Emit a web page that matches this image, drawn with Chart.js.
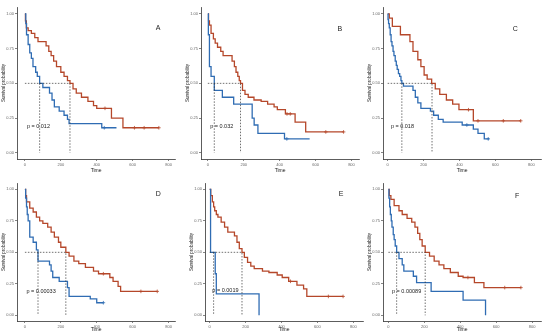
<!DOCTYPE html>
<html>
<head>
<meta charset="utf-8">
<script src="https://cdn.jsdelivr.net/npm/chart.js"></script>
<style>
body{margin:0;background:#fff;width:550px;height:335px;position:relative;overflow:hidden}
canvas{position:absolute}
</style>
</head>
<body>
<canvas id="cA" width="180" height="175" style="left:0;top:0"></canvas>
<canvas id="cB" width="180" height="175" style="left:184px;top:0"></canvas>
<canvas id="cC" width="180" height="175" style="left:366px;top:0"></canvas>
<canvas id="cD" width="180" height="157" style="left:0;top:178px"></canvas>
<canvas id="cE" width="180" height="157" style="left:188px;top:178px"></canvas>
<canvas id="cF" width="180" height="157" style="left:366px;top:178px"></canvas>
<script>
// panel letters and log-rank p values
var panelNames = ['A', 'B', 'C', 'D', 'E', 'F'];
var pTexts = ['p = 0.012', 'p = 0.032', 'p = 0.018', 'p = 0.00033', 'p = 0.0019', 'p = 0.00089'];
var xTickVals = [0, 200, 400, 600, 800];
var yTickVals = [0, 0.25, 0.5, 0.75, 1];

// median survival times (dashed guides)
var redMedian = [251, 182, 247, 228, 180, 205];
var blueMedian = [82, 36, 79, 73, 22, 46];

// KM curves: event times and survival after each step (last entry = end of follow-up)
var redA_t = [3, 8, 18, 36, 55, 73, 118, 133, 146, 160, 176, 200, 218, 237, 251, 268, 286, 315, 351, 382, 400, 482, 546, 746];
var redA_s = [0.95, 0.90, 0.88, 0.86, 0.83, 0.80, 0.77, 0.73, 0.70, 0.66, 0.62, 0.58, 0.55, 0.52, 0.50, 0.46, 0.43, 0.40, 0.37, 0.34, 0.32, 0.25, 0.18, 0.18];
var redA_c = [446, 610, 664, 746];
var blueA_t = [5, 9, 18, 27, 36, 45, 60, 69, 82, 100, 137, 151, 164, 191, 218, 237, 246, 428, 510];
var blueA_s = [0.93, 0.85, 0.78, 0.72, 0.68, 0.62, 0.58, 0.55, 0.50, 0.47, 0.43, 0.38, 0.33, 0.30, 0.27, 0.24, 0.21, 0.18, 0.18];
var blueA_c = [442];

var redB_t = [4, 9, 18, 31, 41, 54, 72, 85, 135, 148, 157, 167, 175, 182, 193, 207, 225, 257, 297, 333, 369, 387, 432, 486, 545, 756];
var redB_s = [0.95, 0.92, 0.86, 0.82, 0.79, 0.76, 0.73, 0.70, 0.66, 0.62, 0.58, 0.55, 0.52, 0.50, 0.45, 0.42, 0.40, 0.38, 0.37, 0.35, 0.33, 0.31, 0.28, 0.22, 0.15, 0.15];
var redB_c = [441, 459, 657, 756];
var blueB_t = [3, 9, 18, 36, 81, 144, 247, 258, 279, 427, 567];
var blueB_s = [0.85, 0.62, 0.55, 0.45, 0.40, 0.35, 0.25, 0.20, 0.14, 0.10, 0.10];
var blueB_c = [440];

var redC_t = [9, 26, 71, 124, 141, 168, 185, 203, 220, 245, 265, 290, 327, 362, 397, 477, 741];
var redC_s = [0.97, 0.91, 0.85, 0.80, 0.73, 0.67, 0.62, 0.56, 0.53, 0.50, 0.46, 0.42, 0.38, 0.35, 0.31, 0.23, 0.23];
var redC_c = [450, 503, 644, 741];
var blueC_t = [2, 5, 9, 14, 19, 24, 30, 35, 42, 48, 53, 60, 67, 74, 79, 88, 141, 154, 168, 185, 238, 256, 282, 309, 415, 477, 503, 538, 565];
var blueC_s = [0.96, 0.93, 0.90, 0.85, 0.80, 0.77, 0.73, 0.70, 0.66, 0.63, 0.60, 0.57, 0.55, 0.52, 0.50, 0.48, 0.45, 0.40, 0.36, 0.32, 0.30, 0.27, 0.24, 0.22, 0.20, 0.17, 0.14, 0.10, 0.10];
var blueC_c = [441, 560];

var redD_t = [4, 9, 27, 46, 64, 82, 100, 127, 146, 164, 187, 200, 228, 246, 273, 300, 337, 382, 410, 473, 491, 519, 533, 737];
var redD_s = [0.95, 0.90, 0.85, 0.82, 0.78, 0.75, 0.73, 0.70, 0.66, 0.62, 0.58, 0.54, 0.50, 0.47, 0.43, 0.41, 0.38, 0.35, 0.33, 0.30, 0.27, 0.23, 0.19, 0.19];
var redD_c = [437, 646, 737];
var blueD_t = [4, 9, 13, 18, 27, 46, 64, 73, 137, 146, 155, 191, 237, 246, 364, 400, 437];
var blueD_s = [0.93, 0.86, 0.80, 0.75, 0.62, 0.58, 0.52, 0.43, 0.40, 0.35, 0.30, 0.27, 0.22, 0.15, 0.13, 0.10, 0.10];
var blueD_c = [437];

var redE_t = [6, 15, 22, 28, 37, 46, 64, 83, 101, 138, 152, 165, 180, 193, 211, 229, 248, 294, 330, 376, 404, 440, 486, 523, 541, 743];
var redE_s = [0.95, 0.90, 0.86, 0.83, 0.80, 0.78, 0.74, 0.70, 0.66, 0.63, 0.58, 0.53, 0.50, 0.46, 0.42, 0.39, 0.37, 0.35, 0.34, 0.32, 0.30, 0.27, 0.24, 0.21, 0.15, 0.15];
var redE_c = [450, 661, 743];
var blueE_t = [5, 31, 37, 275];
var blueE_s = [0.50, 0.33, 0.17, 0.00];
var blueE_c = [];

var redF_t = [5, 14, 32, 59, 77, 104, 130, 148, 163, 175, 188, 205, 229, 255, 282, 309, 345, 389, 416, 479, 532, 738];
var redF_s = [0.95, 0.92, 0.87, 0.83, 0.80, 0.77, 0.74, 0.70, 0.65, 0.60, 0.55, 0.50, 0.47, 0.43, 0.40, 0.37, 0.34, 0.31, 0.30, 0.26, 0.22, 0.22];
var redF_c = [443, 648, 738];
var blueF_t = [3, 7, 11, 16, 20, 27, 32, 38, 46, 59, 77, 86, 139, 157, 238, 416, 541];
var blueF_s = [0.93, 0.86, 0.80, 0.75, 0.70, 0.64, 0.60, 0.55, 0.50, 0.45, 0.40, 0.35, 0.31, 0.26, 0.19, 0.12, 0.00];
var blueF_c = [];

var redCurves = [[redA_t, redA_s, redA_c], [redB_t, redB_s, redB_c], [redC_t, redC_s, redC_c],
                 [redD_t, redD_s, redD_c], [redE_t, redE_s, redE_c], [redF_t, redF_s, redF_c]];
var blueCurves = [[blueA_t, blueA_s, blueA_c], [blueB_t, blueB_s, blueB_c], [blueC_t, blueC_s, blueC_c],
                  [blueD_t, blueD_s, blueD_c], [blueE_t, blueE_s, blueE_c], [blueF_t, blueF_s, blueF_c]];

// layout bits per panel
var xMins = [-44, -38, -26, -44, -26, -30];
var pPos = [[11, 0.19], [13, 0.19], [18, 0.19], [9, 0.19], [15, 0.20], [20, 0.19]];
var letterPos = [[728, 0.90], [722, 0.89], [697, 0.89], [728, 0.96], [719, 0.96], [705, 0.95]];

var RED = '#b5472a';
var BLUE = '#2f6cb3';
var FONT = '"Liberation Sans", Arial, sans-serif';

function kmPoints(t, s) {
  var pts = [{x: 0, y: 1}];
  for (var i = 0; i < t.length; i++) pts.push({x: t[i], y: s[i]});
  return pts;
}
function survAt(t, s, time) {
  var v = 1;
  for (var i = 0; i < t.length; i++) if (t[i] <= time) v = s[i];
  return v;
}
function censPoints(t, s, c) {
  return c.map(function(ct){ return {x: ct, y: survAt(t, s, ct)}; });
}

var labelPlugin = {
  id: 'panelLabels',
  afterDatasetsDraw: function(chart, args, o) {
    var ctx = chart.ctx, xs = chart.scales.x, ys = chart.scales.y;
    ctx.save();
    ctx.fillStyle = '#222';
    ctx.textBaseline = 'middle';
    ctx.textAlign = 'left';
    ctx.font = '5.5px ' + FONT;
    ctx.fillText(o.p, xs.getPixelForValue(o.pPos[0]), ys.getPixelForValue(o.pPos[1]));
    ctx.font = '7px ' + FONT;
    ctx.fillText(o.letter, xs.getPixelForValue(o.lPos[0]), ys.getPixelForValue(o.lPos[1]));
    ctx.restore();
  }
};

function drawPanel(i) {
  var top = i < 3;
  var red = redCurves[i], blue = blueCurves[i];
  var rm = redMedian[i], bm = blueMedian[i];
  var dash = {type: 'line', borderColor: '#333', borderWidth: 0.7, borderDash: [1.5, 1.5], pointRadius: 0, fill: false};

  var datasets = [
    Object.assign({data: [{x: 0, y: 0.5}, {x: rm, y: 0.5}, {x: rm, y: 0}]}, dash),
    Object.assign({data: [{x: bm, y: 0.5}, {x: bm, y: 0}]}, dash),
    {type: 'line', data: kmPoints(blue[0], blue[1]), borderColor: BLUE, borderWidth: 1.3, stepped: true, pointRadius: 0, fill: false},
    {type: 'line', data: kmPoints(red[0], red[1]), borderColor: RED, borderWidth: 1.3, stepped: true, pointRadius: 0, fill: false},
    {type: 'scatter', data: censPoints(blue[0], blue[1], blue[2]), pointStyle: 'cross', pointRadius: 1.8, borderColor: BLUE, borderWidth: 0.8},
    {type: 'scatter', data: censPoints(red[0], red[1], red[2]), pointStyle: 'cross', pointRadius: 1.8, borderColor: RED, borderWidth: 0.8}
  ];

  var ctx = document.getElementById('c' + panelNames[i]).getContext('2d');
  new Chart(ctx, {
    type: 'line',
    data: {datasets: datasets},
    plugins: [labelPlugin],
    options: {
      responsive: false,
      animation: false,
      layout: {padding: {top: top ? 7 : 5, right: 0, left: 0, bottom: 0}},
      plugins: {
        legend: {display: false},
        tooltip: {enabled: false},
        panelLabels: {p: pTexts[i], pPos: pPos[i], letter: panelNames[i], lPos: letterPos[i]}
      },
      scales: {
        x: {
          type: 'linear',
          min: xMins[i],
          max: xMins[i] + 881,
          afterBuildTicks: function(s){ s.ticks = xTickVals.map(function(v){ return {value: v}; }); },
          afterFit: function(s){ s.height = top ? 16 : 14; },
          border: {display: true, color: '#333', width: 0.8},
          grid: {display: true, drawOnChartArea: false, drawTicks: true, tickLength: 2, color: '#333', lineWidth: 0.6},
          ticks: {font: {size: 4, family: FONT}, color: '#666', padding: 1, maxRotation: 0},
          title: {display: true, text: 'Time', font: {size: 5, family: FONT}, color: '#222', padding: {top: 0, bottom: top ? 1 : 2}}
        },
        y: {
          type: 'linear',
          min: -0.045,
          max: 1.05,
          afterBuildTicks: function(s){ s.ticks = yTickVals.map(function(v){ return {value: v}; }); },
          afterFit: function(s){ s.width = 17; },
          border: {display: true, color: '#333', width: 0.8},
          grid: {display: true, drawOnChartArea: false, drawTicks: true, tickLength: 2, color: '#333', lineWidth: 0.6},
          ticks: {font: {size: 4, family: FONT}, color: '#666', padding: 1, callback: function(v){ return Number(v).toFixed(2); }},
          title: {display: true, text: 'Survival probability', font: {size: 4.5, family: FONT}, color: '#222', padding: {top: 1, bottom: 0}}
        }
      }
    }
  });
}

for (var i = 0; i < 6; i++) drawPanel(i);
</script>
</body>
</html>
